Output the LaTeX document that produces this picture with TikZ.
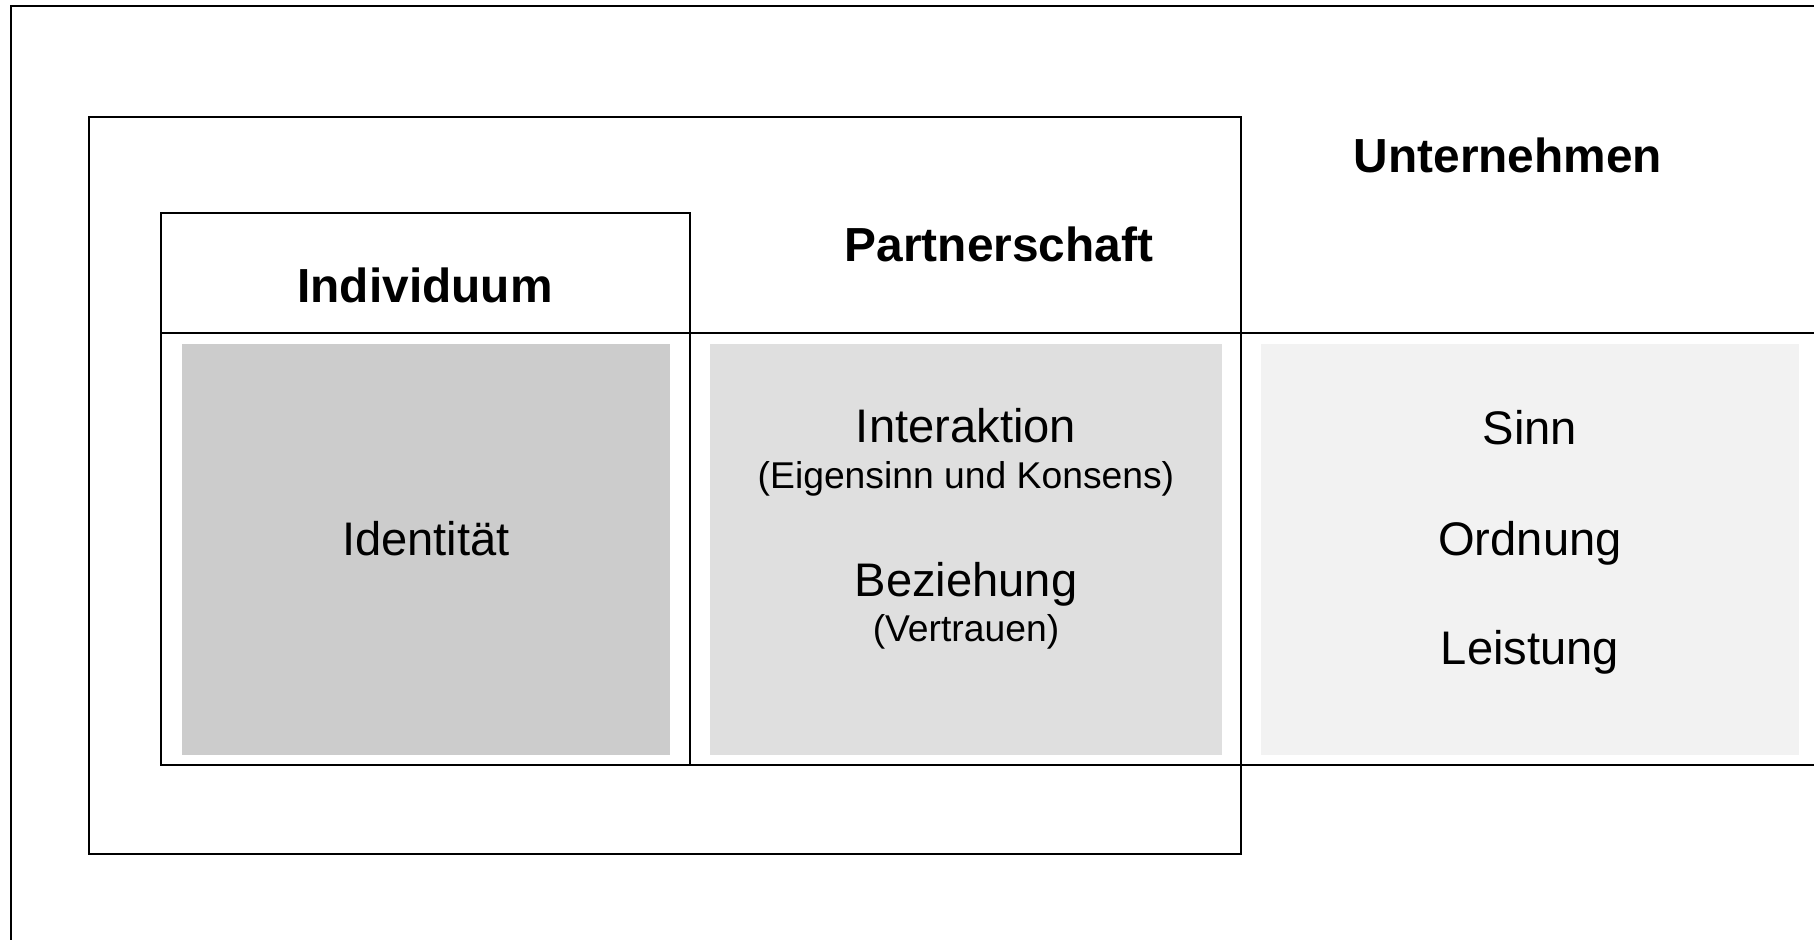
\documentclass[tikz,border=0pt]{standalone}
\usepackage{fontspec}
\setmainfont{Liberation Sans}
\definecolor{shadeA}{HTML}{CCCCCC}
\definecolor{shadeB}{HTML}{DFDFDF}
\definecolor{shadeC}{HTML}{F2F2F2}

\begin{document}
\begin{tikzpicture}
  [x=0.01cm,y=-0.01cm,
   frame/.style={draw=black,line width=0.7pt},
   every node/.style={inner sep=0pt,anchor=base},
   head/.style={font=\fontsize{13.6}{16}\selectfont\bfseries},
   item/.style={font=\fontsize{13.4}{16}\selectfont},
   note/.style={font=\fontsize{10.6}{13}\selectfont}]
  \useasboundingbox (0,0) rectangle (1814,940);
  \fill[white] (0,0) rectangle (1814,940);
  % shaded fields
  \fill[shadeA] (182,344) rectangle (670,755);
  \fill[shadeB] (710,344) rectangle (1222,755);
  \fill[shadeC] (1261,344) rectangle (1799,755);
  % frames
  \draw[frame] (1814,6) -| (11,940);
  \draw[frame] (89,117) rectangle (1241,854);
  \draw[frame] (161,213) rectangle (690,765);
  \draw[frame] (161,333) -- (1814,333);
  \draw[frame] (690,765) -- (1814,765);
  % headings
  \node[head] (unt) at (1508,173) {Unternehmen};
  \node[head] (part) at (999,262) {Partnerschaft};
  \node[head] (ind) at (425,303) {Individuum};
  % contents
  \node[item] (ident) at (426,556) {Identität};
  \node[item] (inter) at (966,443) {Interaktion};
  \node[note] (eigen) at (966,489) {(Eigensinn und Konsens)};
  \node[item] (bez) at (966,597) {Beziehung};
  \node[note] (vert) at (966,642) {(Vertrauen)};
  \node[item] (sinn) at (1530,445) {Sinn};
  \node[item] (ord) at (1530,556) {Ordnung};
  \node[item] (leist) at (1530,665) {Leistung};
\end{tikzpicture}
\end{document}
